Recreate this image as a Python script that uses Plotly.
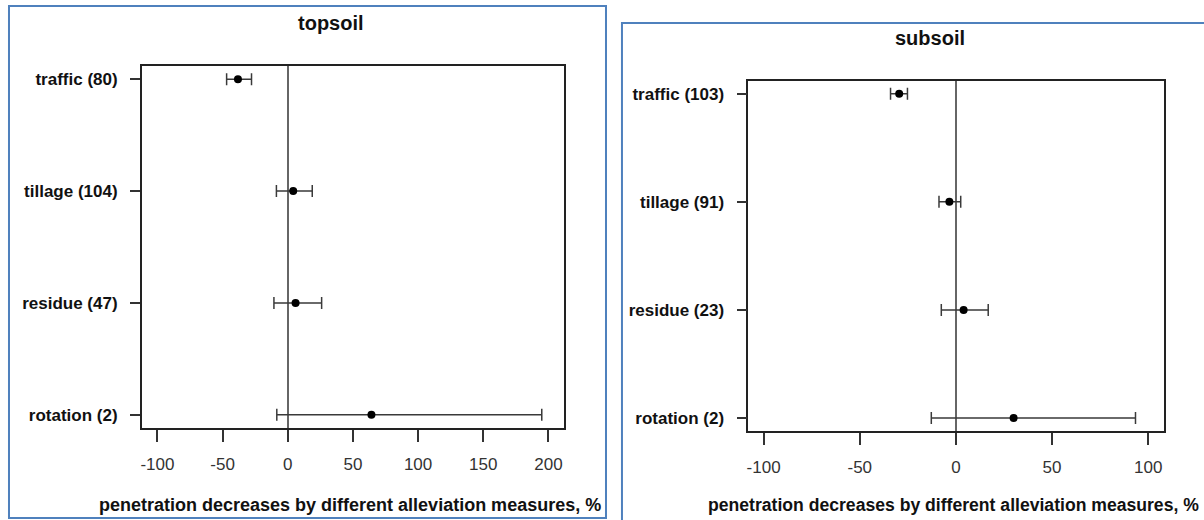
import plotly.graph_objects as go

# ---- data ----
top_labels = ["traffic (80)", "tillage (104)", "residue (47)", "rotation (2)"]
top_mean = [-38.2, 4.2, 6.0, 64.2]
top_low = [-46.9, -8.7, -10.6, -8.4]
top_high = [-27.8, 18.8, 26.0, 194.9]

sub_labels = ["traffic (103)", "tillage (91)", "residue (23)", "rotation (2)"]
sub_mean = [-29.5, -3.4, 4.0, 30.0]
sub_low = [-34.0, -8.8, -7.6, -12.8]
sub_high = [-25.2, 2.5, 16.8, 93.4]

top_ticks = [-100, -50, 0, 50, 100, 150, 200]
top_tick_text = ["-100", "-50", "0", "50", "100", "150", "200"]
sub_ticks = [-100, -50, 0, 50, 100]
sub_tick_text = ["-100", "-50", "0", "50", "100"]
positions = [4, 3, 2, 1]

W, H = 1204, 520
FONT = "Liberation Sans, Arial, sans-serif"


def px_x(v):
    return v / W


def px_y(v):
    return 1 - v / H


fig = go.Figure()


def add_panel(mean, low, high, xa, ya):
    fig.add_trace(go.Scatter(
        x=mean, y=positions, mode="markers",
        marker=dict(color="black", size=8),
        error_x=dict(type="data", symmetric=False,
                     array=[h - m for h, m in zip(high, mean)],
                     arrayminus=[m - l for m, l in zip(mean, low)],
                     color="#3a3a3a", thickness=1.5, width=6),
        xaxis=xa, yaxis=ya, showlegend=False, hoverinfo="skip"))


add_panel(top_mean, top_low, top_high, "x", "y")
add_panel(sub_mean, sub_low, sub_high, "x2", "y2")

axis_common = dict(showgrid=False, showline=True, linecolor="#222", linewidth=1.5,
                   mirror=True, ticks="outside", tickcolor="#333", tickwidth=1.5)

fig.update_layout(
    width=W, height=H, margin=dict(l=0, r=0, t=0, b=0),
    paper_bgcolor="white", plot_bgcolor="white",
    font=dict(family=FONT, color="#222"),
    xaxis=dict(domain=[px_x(140), px_x(563)], range=[-112, 212], tickvals=top_ticks,
               ticktext=top_tick_text,
               ticklen=12, tickfont=dict(size=17, color="#333"), ticklabelstandoff=8,
               zeroline=True, zerolinecolor="#666", zerolinewidth=2, anchor="y",
               **axis_common),
    yaxis=dict(domain=[px_y(428.3), px_y(65.7)], range=[0.88, 4.12], tickvals=positions,
               ticktext=top_labels, ticklen=10, ticklabelstandoff=9,
               tickfont=dict(size=17, color="#111", family=FONT, weight="bold"),
               zeroline=False, anchor="x", **axis_common),
    xaxis2=dict(domain=[px_x(747.5), px_x(1163.5)], range=[-108, 108], tickvals=sub_ticks,
                ticktext=sub_tick_text,
                ticklen=12, tickfont=dict(size=17, color="#333"), ticklabelstandoff=8,
                zeroline=True, zerolinecolor="#666", zerolinewidth=2, anchor="y2",
                **axis_common),
    yaxis2=dict(domain=[px_y(431), px_y(80.7)], range=[0.88, 4.12], tickvals=positions,
                ticktext=sub_labels, ticklen=10, ticklabelstandoff=9,
                tickfont=dict(size=17, color="#111", family=FONT, weight="bold"),
                zeroline=False, anchor="x2", **axis_common),
)

# titles and axis labels
ann = [
    dict(text="<b>topsoil</b>", x=px_x(330), y=px_y(23), size=20),
    dict(text="<b>subsoil</b>", x=px_x(930), y=px_y(38.3), size=20),
    dict(text="<b>penetration decreases by different alleviation measures, %</b>",
         x=px_x(349), y=px_y(505), size=18),
    dict(text="<b>penetration decreases by different alleviation measures, %</b>",
         x=px_x(953), y=px_y(505), size=17.6),
]
for a in ann:
    fig.add_annotation(text=a["text"], x=a["x"], y=a["y"], xref="paper", yref="paper",
                       xanchor="center", yanchor="middle", showarrow=False,
                       font=dict(size=a["size"], family=FONT, color="#111"))

# blue frames around the two pictures
fig.add_shape(type="rect", xref="paper", yref="paper",
              x0=px_x(7), x1=px_x(605), y0=px_y(518), y1=px_y(6),
              line=dict(color="#4F81BD", width=2))
fig.add_shape(type="rect", xref="paper", yref="paper",
              x0=px_x(621), x1=1.02, y0=-0.02, y1=px_y(23),
              line=dict(color="#4F81BD", width=2))

fig.write_html("out.html", config={"displayModeBar": False},
               post_script="document.body.style.margin='0px';document.body.style.overflow='hidden';")
